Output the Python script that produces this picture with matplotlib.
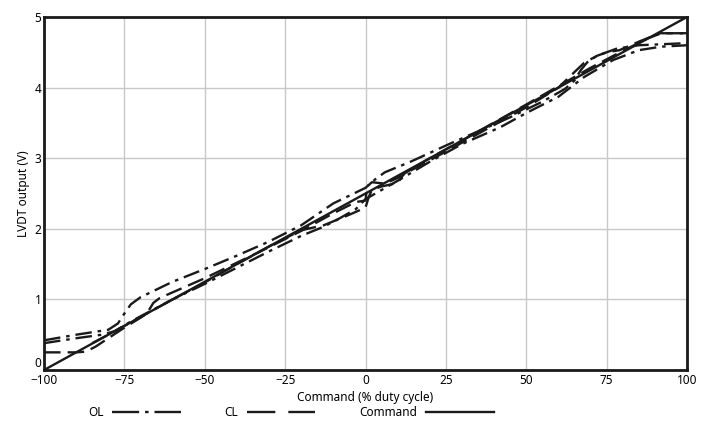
import matplotlib
matplotlib.use("Agg")
import matplotlib.pyplot as plt
from matplotlib.lines import Line2D
import numpy as np

# command sweep, % duty cycle
cmd_x = [-100, 100]
cmd_y = [0.0, 5.0]

# open loop, two branches of the hysteresis loop
ol1_x = [-100, -90, -80, -77, -75, -73, -70, -65, -60, -50, -40, -30, -20, -10, -5, 0, 3, 6, 14, 26, 35, 45, 55, 62, 65, 67, 69, 72, 78, 85, 100]
ol1_y = [0.42, 0.5, 0.57, 0.66, 0.8, 0.93, 1.03, 1.14, 1.25, 1.43, 1.62, 1.82, 2.05, 2.36, 2.47, 2.58, 2.7, 2.8, 2.95, 3.2, 3.38, 3.58, 3.8, 3.98, 4.1, 4.25, 4.36, 4.45, 4.55, 4.6, 4.63]
ol2_x = [-100, -90, -82, -78, -74, -70, -60, -50, -40, -30, -20, -13, -8, -3, 0, 5, 10, 20, 30, 42, 50, 60, 68, 77, 85, 92, 100]
ol2_y = [0.38, 0.45, 0.5, 0.55, 0.66, 0.76, 1.0, 1.22, 1.45, 1.68, 1.9, 2.03, 2.15, 2.28, 2.42, 2.55, 2.68, 2.95, 3.2, 3.44, 3.64, 3.87, 4.15, 4.39, 4.53, 4.58, 4.6]

# closed loop, two branches
cl1_x = [-100, -90, -87, -84, -80, -75, -70, -68, -66, -64, -60, -50, -40, -30, -20, -10, -3, 0, 0.5, 2, 6, 10, 13, 20, 30, 40, 50, 60, 65, 68, 72, 75, 79, 85, 91.6, 100]
cl1_y = [0.25, 0.25, 0.26, 0.33, 0.45, 0.6, 0.74, 0.8, 0.95, 1.02, 1.1, 1.3, 1.52, 1.74, 1.97, 2.22, 2.38, 2.4, 2.6, 2.66, 2.64, 2.72, 2.8, 2.97, 3.22, 3.47, 3.72, 4.0, 4.22, 4.35, 4.45, 4.5, 4.53, 4.65, 4.77, 4.77]
cl2_x = [-85, -80, -70, -60, -50, -40, -30, -20, -13, -5, 0, 1, 2, 5, 10, 12, 20, 30, 50, 60, 70, 80, 88, 92, 100]
cl2_y = [0.38, 0.5, 0.75, 1.0, 1.24, 1.5, 1.75, 1.98, 2.05, 2.2, 2.3, 2.45, 2.55, 2.6, 2.65, 2.78, 3.0, 3.25, 3.76, 4.02, 4.28, 4.52, 4.7, 4.77, 4.77]

plt.rcParams['font.family'] = ['Noto Sans', 'DejaVu Sans']
fig = plt.figure(figsize=(7.01, 4.25), dpi=100)
ax = fig.add_axes([0.0628, 0.1294, 0.9172, 0.8306])

ink = '#1a1a1a'
ol_dash = (7, 2.5, 1.5, 2.5)
cl_dash = (7, 3)
lw = 1.7

ax.plot(ol1_x, ol1_y, color=ink, lw=lw, dashes=ol_dash)
ax.plot(ol2_x, ol2_y, color=ink, lw=lw, dashes=ol_dash)
ax.plot(cl1_x, cl1_y, color=ink, lw=lw, dashes=cl_dash)
ax.plot(cl2_x, cl2_y, color=ink, lw=lw, dashes=cl_dash)
ax.plot(cmd_x, cmd_y, color=ink, lw=lw)

ax.set_xlim(-100, 100)
ax.set_ylim(0, 5)
ax.set_xticks(np.arange(-100, 101, 25))
ax.set_yticks(range(0, 6))
ax.grid(True, color='#c8c8c8', lw=1)
ax.set_axisbelow(True)
for s in ax.spines.values():
    s.set_linewidth(2)
    s.set_color(ink)
ax.tick_params(axis='x', length=0, labelsize=8.5, pad=3)
ax.tick_params(axis='y', length=0, labelsize=8.5, pad=2)
ax.yaxis.get_major_ticks()[0].label1.set_va('bottom')
ax.set_xlabel('Command (% duty cycle)', fontsize=8.5, labelpad=3)
ax.set_ylabel('LVDT output (V)', fontsize=8.5, labelpad=3)

# legend samples drawn with longer dashes, like the original key
handles = [
    Line2D([], [], color=ink, lw=lw, dashes=(11.5, 2.5, 1.5, 2.5)),
    Line2D([], [], color=ink, lw=lw, dashes=(12, 5.5)),
    Line2D([], [], color=ink, lw=lw),
]
fig.legend(handles, ['OL', 'CL', 'Command'], loc='center', bbox_to_anchor=(0.415, 0.03),
           ncol=3, frameon=False, markerfirst=False, handlelength=5.8,
           handletextpad=0.75, columnspacing=3.7, fontsize=8.5)

fig.savefig('out.png', dpi=100)
